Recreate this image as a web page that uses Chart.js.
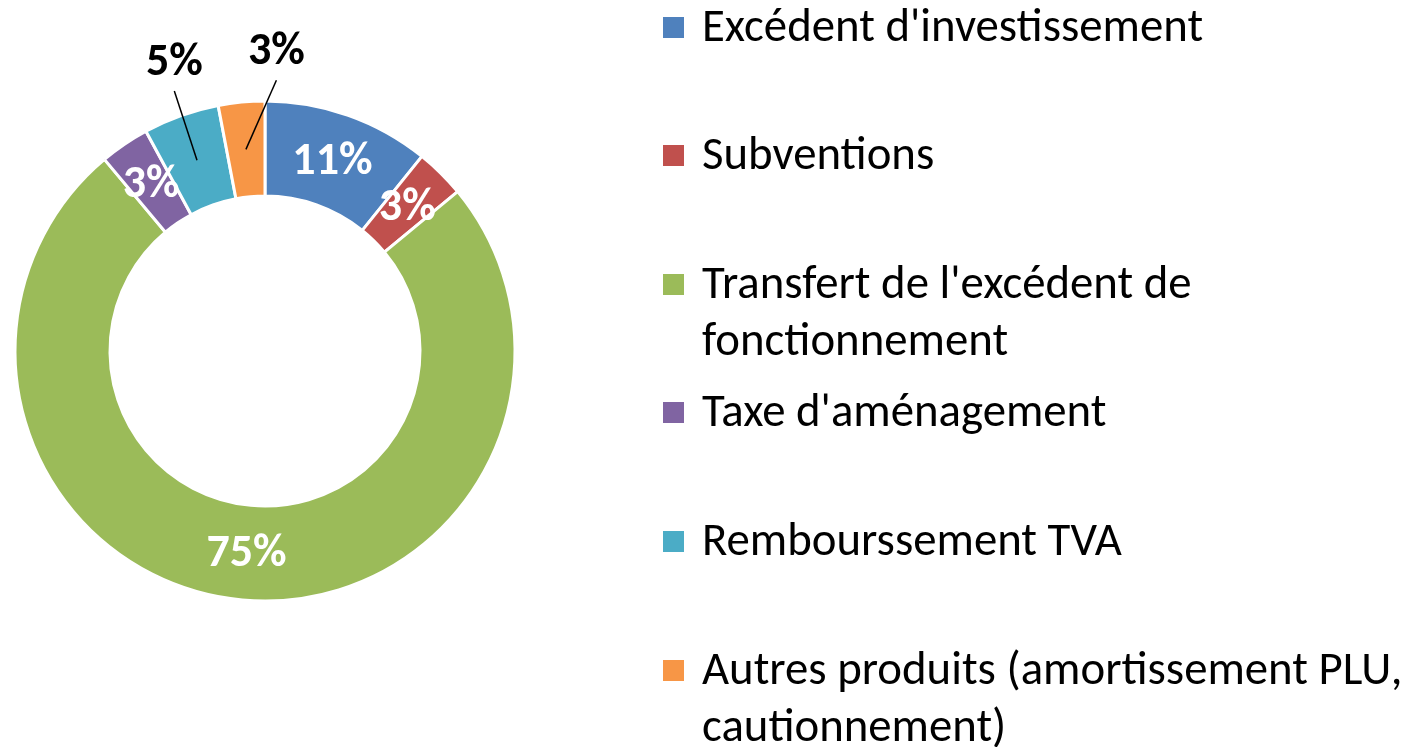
<!DOCTYPE html>
<html>
<head>
<meta charset="utf-8">
<script src="https://cdn.jsdelivr.net/npm/chart.js@4/dist/chart.umd.min.js"></script>
<style>
    html, body { margin: 0; padding: 0; background: #fff; }
    #wrap { position: relative; width: 1416px; height: 747px; overflow: hidden; }
    #doughnutChart { position: absolute; left: 0; top: 0; }
    #legend { position: absolute; left: 0; top: 0; width: 1416px; height: 747px; }
    .legend-item { position: absolute; left: 663px; }
    .legend-box { position: absolute; left: 0; width: 21px; height: 21px; }
    .legend-text {
        position: absolute; left: 39px; white-space: pre; color: #000;
        font-family: 'Carlito', 'Liberation Sans Narrow', 'Open Sans', sans-serif;
        font-size: 46.8px; line-height: 57px;
    }
</style>
</head>
<body>
<div id="wrap">
    <canvas id="doughnutChart" width="560" height="747"></canvas>
    <div id="legend"></div>
</div>
<script>
// Répartition des recettes d'investissement
const categories = [
    "Excédent d'investissement",
    'Subventions',
    ["Transfert de l'excédent de", 'fonctionnement'],
    "Taxe d'aménagement",
    'Rembourssement TVA',
    ['Autres produits (amortissement PLU,', 'cautionnement)']
];
const shares = [10.8, 3.2, 74.9, 3.2, 4.9, 3.0];
const sliceColors = ['#4F81BD', '#C0504D', '#9BBB59', '#8064A2', '#4BACC6', '#F79646'];

// Vertical centre of the first line of each legend entry
const legendRowCenters = [27, 155, 284, 412, 541, 670];

/**
 * Percentage labels: white inside the ring, black with a leader line for small slices
 */
const percentLabels = {
    id: 'percentLabels',
    afterDatasetsDraw(chart, args, opts) {
        const ctx = chart.ctx;
        const meta = chart.getDatasetMeta(0);
        const values = chart.data.datasets[0].data;
        const total = values.reduce((a, b) => a + b, 0);

        ctx.save();
        ctx.font = opts.font;
        ctx.textAlign = 'center';
        ctx.textBaseline = 'middle';

        meta.data.forEach((arc, i) => {
            const p = arc.getProps(['x', 'y', 'startAngle', 'endAngle', 'innerRadius', 'outerRadius']);
            const mid = (p.startAngle + p.endAngle) / 2;
            const rMid = (p.innerRadius + p.outerRadius) / 2;
            const text = Math.round(values[i] / total * 100) + '%';
            const sx = p.x + Math.cos(mid) * rMid;
            const sy = p.y + Math.sin(mid) * rMid;
            const callout = opts.callouts[i];

            if (!callout) {
                ctx.fillStyle = '#fff';
                ctx.fillText(text, sx, sy + 2);
                return;
            }

            const r2 = p.outerRadius + callout.reach;
            const ex = p.x + Math.cos(mid) * r2 + callout.shiftX;
            const ey = p.y + Math.sin(mid) * r2;

            ctx.strokeStyle = '#000';
            ctx.lineWidth = 1.5;
            ctx.beginPath();
            ctx.moveTo(sx, sy);
            ctx.lineTo(ex, ey);
            ctx.stroke();

            ctx.fillStyle = '#000';
            ctx.fillText(text, ex, ey - 28);
        });
        ctx.restore();
    }
};

const chart = new Chart(document.getElementById('doughnutChart'), {
    type: 'doughnut',
    data: {
        labels: categories,
        datasets: [{
            data: shares,
            backgroundColor: sliceColors,
            borderColor: '#ffffff',
            borderWidth: 3,
            hoverOffset: 0
        }]
    },
    options: {
        responsive: false,
        animation: false,
        cutout: '62%',
        layout: {
            padding: { left: 13.5, top: 99.5, right: 43.5, bottom: 144.5 }
        },
        plugins: {
            legend: { display: false },
            tooltip: { enabled: false },
            percentLabels: {
                font: "bold 46px 'Carlito', 'Open Sans', sans-serif",
                callouts: {
                    4: { reach: 26, shiftX: 2 },
                    5: { reach: 22, shiftX: 37 }
                }
            }
        }
    },
    plugins: [percentLabels]
});

// HTML legend built from the chart's own data
const legendEl = document.getElementById('legend');
chart.data.labels.forEach((label, i) => {
    const item = document.createElement('div');
    item.className = 'legend-item';
    item.style.top = (legendRowCenters[i] - 30.5) + 'px';

    const box = document.createElement('div');
    box.className = 'legend-box';
    box.style.top = '20px';
    box.style.background = chart.data.datasets[0].backgroundColor[i];

    const txt = document.createElement('div');
    txt.className = 'legend-text';
    txt.style.top = '0px';
    txt.textContent = Array.isArray(label) ? label.join('\n') : label;

    item.appendChild(box);
    item.appendChild(txt);
    legendEl.appendChild(item);
});
</script>
</body>
</html>
